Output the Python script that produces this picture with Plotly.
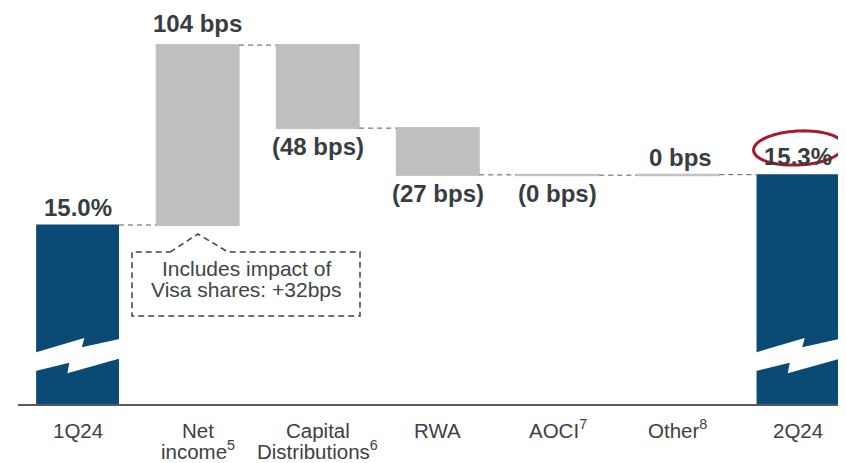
import numpy as np
import plotly.graph_objects as go

# ---------------- data ----------------
categories = ["1Q24", "Net<br>income<sup>5</sup>", "Capital<br>Distributions<sup>6</sup>",
              "RWA", "AOCI<sup>7</sup>", "Other<sup>8</sup>", "2Q24"]
start_ratio = 15.0          # CET1 ratio, %
changes_bps = [104, -48, -27, -0.2, 0.3]
end_label = "15.3%"
note_lines = ["Includes impact of", "Visa shares: +32bps"]

# ---------------- style / layout constants ----------------
PAGE_OFF = 8                      # browser default body margin
W, H = 846 - PAGE_OFF, 463 - PAGE_OFF
AXIS_SCREEN_Y = 404
PLOT_LEFT_SCREEN = 18
ML, MR, MT = PLOT_LEFT_SCREEN - PAGE_OFF, 0, 0
MB = H - (AXIS_SCREEN_Y - PAGE_OFF)
X_RANGE = [-0.496, 6.4]
PX_PER_PCT = 173.0
PLOT_W = W - ML - MR
PLOT_H = H - MT - MB
Y_MIN = start_ratio - 179.0 / PX_PER_PCT
Y_MAX = Y_MIN + PLOT_H / PX_PER_PCT
BAR_W = 0.69
PX_PER_CAT = PLOT_W / (X_RANGE[1] - X_RANGE[0])

BLUE = "#0B4A75"
GREY = "#BFBFBF"
TXT = "#383D42"
LBL = "#404040"
FONT = "Liberation Sans, Arial, sans-serif"


def px2x(px):
    """screen pixel x -> data x"""
    return X_RANGE[0] + (px - PLOT_LEFT_SCREEN) / PX_PER_CAT


def px2y(py):
    """screen pixel y -> data y"""
    return Y_MIN + (AXIS_SCREEN_Y - py) / PX_PER_PCT


n = len(categories)
xs = list(range(n))
measures = ["absolute"] + ["relative"] * len(changes_bps) + ["total"]
yvals = [start_ratio] + [c / 100.0 for c in changes_bps] + [0]

fig = go.Figure()
fig.add_trace(go.Waterfall(
    x=xs, y=yvals, measure=measures, width=BAR_W,
    increasing=dict(marker=dict(color=GREY, line=dict(color=GREY, width=1))),
    decreasing=dict(marker=dict(color=GREY, line=dict(color=GREY, width=1))),
    totals=dict(marker=dict(color=BLUE, line=dict(width=0))),
    connector=dict(line=dict(color="#595959", width=1, dash="5px,4px")),
    textinfo="none", hoverinfo="skip",
))

# cumulative levels
levels = np.concatenate([[start_ratio], start_ratio + np.cumsum(np.array(changes_bps) / 100.0)])
end_val = levels[-1]

ann = []
vfont = dict(family=FONT, size=24, color=TXT)
ann.append(dict(x=0, y=start_ratio, text="<b>%.1f%%</b>" % start_ratio, showarrow=False,
                yanchor="bottom", yshift=2, font=vfont))
for i, c in enumerate(changes_bps):
    lo, hi = sorted([levels[i], levels[i + 1]])
    if c >= 0:
        txt = "<b>%d bps</b>" % round(abs(c))
        small = abs(c) < 1
        ann.append(dict(x=i + 1, y=hi, text=txt, showarrow=False, yanchor="bottom",
                        yshift=2 if small else 6, xshift=3 if small else 0, font=vfont))
    else:
        txt = "<b>(%d bps)</b>" % round(abs(c))
        ann.append(dict(x=i + 1, y=lo, text=txt, showarrow=False, yanchor="top",
                        yshift=-3, font=vfont))
ann.append(dict(x=n - 1, y=end_val, text="<b>%s</b>" % end_label, showarrow=False,
                yanchor="bottom", yshift=3, font=vfont))

# category labels (annotations for tight line spacing, anchored at the baseline side)
cfont = dict(family=FONT, size=20.5, color=LBL)
for i, cat in enumerate(categories):
    for j, line in enumerate(cat.split("<br>")):
        ann.append(dict(x=i, xref="x", y=0, yref="paper", text=line, showarrow=False,
                        yanchor="bottom", yshift=-40 - 21 * j, font=cfont))

# note box text
nfont = dict(family=FONT, size=21, color="#404548")
for j, line in enumerate(note_lines):
    ann.append(dict(x=px2x(246), y=px2y(268 + 21 * j), text=line, showarrow=False,
                    yanchor="middle", font=nfont))

shapes = []
# note box with pointer
pts = [(170, 252), (198, 234), (228, 252), (360, 252), (360, 316), (132, 316), (132, 252)]
path = "M " + " L ".join("%.4f,%.4f" % (px2x(a), px2y(b)) for a, b in pts) + " Z"
shapes.append(dict(type="path", xref="x", yref="y", path=path,
                   line=dict(color="#404040", width=1.5, dash="6px,4px")))

# axis-break bolts on the blue bars
bolt = [(-0.02, 51.3), (0.582, 66), (0.551, 56.7), (1.02, 65.3), (1.02, 45.7),
        (0.377, 30.7), (0.401, 41.3), (-0.02, 32.7)]
for bi in (0, n - 1):
    p = "M " + " L ".join("%.4f,%.4f" % (bi + (fx - 0.5) * BAR_W, Y_MIN + dy / PX_PER_PCT)
                          for fx, dy in bolt) + " Z"
    shapes.append(dict(type="path", xref="x", yref="y", path=p,
                       fillcolor="white", line=dict(width=0), layer="above"))

# highlight ellipse
t = np.linspace(0, 2 * np.pi, 72)
cx, cy, rx, ry, rot = 798.5, 148, 45, 17, np.deg2rad(-3)
ex = cx + rx * np.cos(t) * np.cos(rot) - ry * np.sin(t) * np.sin(rot)
ey = cy + rx * np.cos(t) * np.sin(rot) + ry * np.sin(t) * np.cos(rot)
ep = "M " + " L ".join("%.4f,%.4f" % (px2x(a), px2y(b)) for a, b in zip(ex, ey)) + " Z"
shapes.append(dict(type="path", xref="x", yref="y", path=ep,
                   line=dict(color="#A6192E", width=3)))

fig.update_layout(
    width=W, height=H, margin=dict(l=ML, r=MR, t=MT, b=MB),
    paper_bgcolor="white", plot_bgcolor="white", showlegend=False,
    xaxis=dict(range=X_RANGE, showgrid=False, zeroline=False, showticklabels=False,
               ticks="", showline=True, linecolor="#595959", linewidth=1.5,
               automargin=False, fixedrange=True),
    yaxis=dict(range=[Y_MIN, Y_MAX], visible=False, automargin=False, fixedrange=True),
    annotations=ann, shapes=shapes,
)

fig.write_html("out.html")
